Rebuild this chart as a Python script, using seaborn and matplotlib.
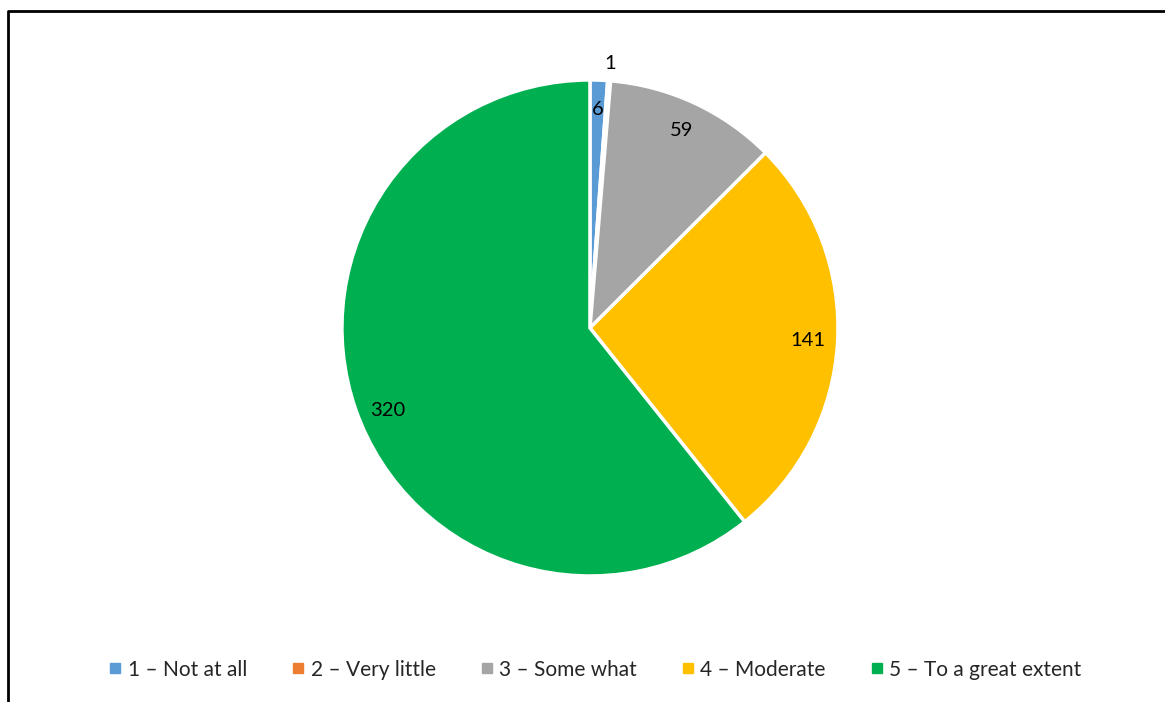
import matplotlib
matplotlib.use('Agg')
import numpy as np
import matplotlib.pyplot as plt
from matplotlib.lines import Line2D
import seaborn as sns

# Survey response counts
categories = ['1 – Not at all', '2 – Very little', '3 – Some what',
              '4 – Moderate', '5 – To a great extent']
counts = [6, 1, 59, 141, 320]
colors = ['#5B9BD5', '#ED7D31', '#A5A5A5', '#FFC000', '#00B050']

sns.set_theme(style='white')
plt.rcParams['font.family'] = ['Lato', 'DejaVu Sans']

fig = plt.figure(figsize=(11.65, 7.02), dpi=100)
ax = fig.add_axes([0.2935, 0.1795, 0.4258, 0.7066])

wedges, _ = ax.pie(counts, colors=colors, startangle=90, counterclock=False,
                   wedgeprops=dict(edgecolor='white', linewidth=2.5))
ax.set_xlim(-1, 1)
ax.set_ylim(-1, 1)
ax.set_aspect('equal')
ax.axis('off')

# value labels, like Excel's best-fit placement
for w, val in zip(wedges, counts):
    theta = (w.theta1 + w.theta2) / 2
    r = 1.07 if val < 3 else 0.88
    if val > 300:
        theta += 3
    x = r * np.cos(np.radians(theta))
    y = r * np.sin(np.radians(theta))
    ax.text(x, y, str(val), ha='center', va='center', fontsize=14.5, color='black')

handles = [Line2D([], [], marker='s', linestyle='none', markersize=7,
                  markerfacecolor=c, markeredgecolor=c) for c in colors]
fig.legend(handles, categories, loc='center', bbox_to_anchor=(0.510, 0.046),
           ncol=5, frameon=False, fontsize=15, handletextpad=0.2,
           columnspacing=2.05, handlelength=0.8)

# chart border (top and left edges visible)
fig.add_artist(Line2D([8 / 1165, 8 / 1165, 1.0], [0.0, 1 - 11 / 702, 1 - 11 / 702],
                      transform=fig.transFigure, color='black', linewidth=2))

fig.savefig('out.png', dpi=100, facecolor='white')
